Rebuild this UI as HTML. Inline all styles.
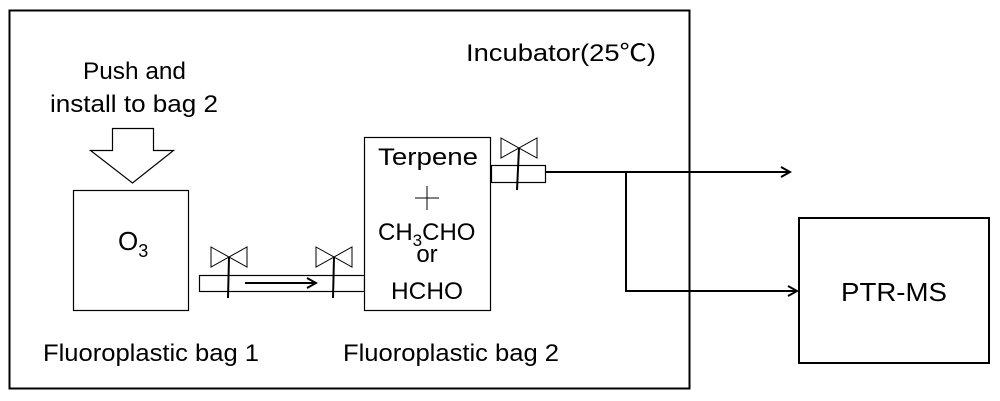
<!DOCTYPE html>
<html><head><meta charset="utf-8"><style>
html,body{margin:0;padding:0;background:#fff;}
svg{display:block;}
text{font-family:"Liberation Sans","Noto Sans CJK JP",sans-serif;fill:#000;}
</style></head><body>
<svg width="1000" height="401" viewBox="0 0 1000 401" xmlns="http://www.w3.org/2000/svg">
<defs><marker id="a" markerWidth="12" markerHeight="12" refX="10" refY="6" orient="auto" markerUnits="userSpaceOnUse"><path d="M1,1 L10,6 L1,11" fill="none" stroke="#000" stroke-width="2"/></marker></defs>
<rect x="9.5" y="10.5" width="680" height="378" fill="none" stroke="#000" stroke-width="2"/>
<text x="466" y="61" font-size="24" textLength="190" lengthAdjust="spacingAndGlyphs">Incubator(25℃)</text>
<text x="83" y="79" font-size="24" textLength="103" lengthAdjust="spacingAndGlyphs">Push and</text>
<text x="50" y="112" font-size="24" textLength="168" lengthAdjust="spacingAndGlyphs">install to bag 2</text>
<path d="M112.5,128.5 H153.5 V150.5 H173.5 L132.5,183 L90.5,150.5 H112.5 Z" fill="#fff" stroke="#000" stroke-width="1.2"/>
<rect x="73.5" y="190.5" width="115" height="120" fill="#fff" stroke="#000" stroke-width="1.2"/>
<text x="118" y="250" font-size="26">O<tspan font-size="18" dy="7">3</tspan></text>
<rect x="199.5" y="275.5" width="165" height="16" fill="#fff" stroke="#000" stroke-width="1.2"/>
<line x1="245" y1="283" x2="316" y2="283" stroke="#000" stroke-width="2" marker-end="url(#a)"/>
<rect x="364.5" y="137.5" width="126" height="173" fill="#fff" stroke="#000" stroke-width="1.2"/>
<text x="378" y="165" font-size="24" textLength="100" lengthAdjust="spacingAndGlyphs">Terpene</text>
<path d="M427,186 V210 M415,198 H439" stroke="#000" stroke-width="1"/>
<text x="378" y="240" font-size="24">CH<tspan font-size="17" dy="6">3</tspan><tspan dy="-6">CHO</tspan></text>
<text x="427" y="262" font-size="24" text-anchor="middle">or</text>
<text x="427" y="299" font-size="24" text-anchor="middle" textLength="72" lengthAdjust="spacingAndGlyphs">HCHO</text>
<rect x="491.5" y="165.5" width="54" height="17" fill="#fff" stroke="#000" stroke-width="1.2"/>
<g fill="#fff" stroke="#000" stroke-width="1">
<path d="M211,247 L247,267 V247 L211,267 Z"/>
<path d="M316,247 L352,267 V247 L316,267 Z"/>
<path d="M501,138 L537,158 V138 L501,158 Z"/>
</g>
<g stroke="#000" stroke-width="2">
<line x1="229" y1="257" x2="228" y2="298"/>
<line x1="334" y1="257" x2="333" y2="298"/>
<line x1="519" y1="148" x2="517" y2="190"/>
</g>
<polyline points="545,172 790,172" fill="none" stroke="#000" stroke-width="2" marker-end="url(#a)"/>
<polyline points="626,172 626,291 797,291" fill="none" stroke="#000" stroke-width="2" marker-end="url(#a)"/>
<rect x="799" y="218" width="190" height="145" fill="none" stroke="#000" stroke-width="2"/>
<text x="841" y="301" font-size="26" textLength="106" lengthAdjust="spacingAndGlyphs">PTR-MS</text>
<text x="43" y="361" font-size="24" textLength="216" lengthAdjust="spacingAndGlyphs">Fluoroplastic bag 1</text>
<text x="343" y="361" font-size="24" textLength="216" lengthAdjust="spacingAndGlyphs">Fluoroplastic bag 2</text>
</svg>
</body></html>
